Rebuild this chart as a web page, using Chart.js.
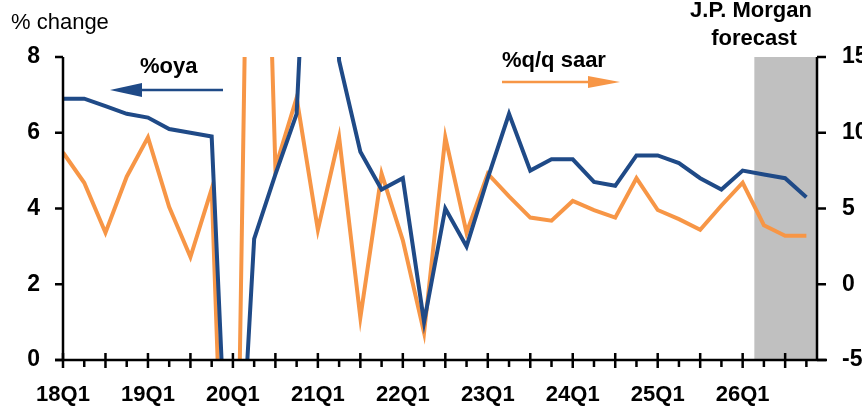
<!DOCTYPE html>
<html>
<head>
<meta charset="utf-8">
<script src="https://cdn.jsdelivr.net/npm/chart.js@4/dist/chart.umd.min.js"></script>
<style>
    html, body { margin: 0; padding: 0; background: #fff; }
    #wrap { width: 862px; height: 409px; }
</style>
</head>
<body>
<div id="wrap"><canvas id="grafico" width="862" height="409"></canvas></div>
<script>
// Trimestres (eje x)
const quarters = [
    '18Q1', '18Q2', '18Q3', '18Q4', '19Q1', '19Q2', '19Q3', '19Q4',
    '20Q1', '20Q2', '20Q3', '20Q4', '21Q1', '21Q2', '21Q3', '21Q4',
    '22Q1', '22Q2', '22Q3', '22Q4', '23Q1', '23Q2', '23Q3', '23Q4',
    '24Q1', '24Q2', '24Q3', '24Q4', '25Q1', '25Q2', '25Q3', '25Q4',
    '26Q1', '26Q2', '26Q3', '26Q4'
];
// %oya (eje izquierdo)
const oya = [6.9, 6.9, 6.7, 6.5, 6.4, 6.1, 6.0, 5.9, -6.8, 3.2, 4.9, 6.5,
    18.3, 7.9, 5.5, 4.5, 4.8, 1.0, 4.0, 3.0, 4.8, 6.5, 5.0, 5.3,
    5.3, 4.7, 4.6, 5.4, 5.4, 5.2, 4.8, 4.5, 5.0, 4.9, 4.8, 4.3];
// %q/q saar (eje derecho)
const qqSaar = [8.7, 6.7, 3.4, 7.1, 9.7, 5.1, 1.8, 6.3, -34, 55, 7.7, 12.3,
    3.6, 9.7, -2.2, 7.3, 2.9, -3.2, 9.7, 3.4, 7.3, 5.8, 4.4, 4.2,
    5.5, 4.9, 4.4, 7.0, 4.9, 4.3, 3.6, 5.2, 6.7, 3.9, 3.2, 3.2];
const leftTicks = [0, 2, 4, 6, 8];
const rightTicks = [-5, 0, 5, 10, 15];
const labelIdx = [0, 4, 8, 12, 16, 20, 24, 28, 32];
const forecastStart = 32.55;

const BLUE = '#1f4a87';
const ORANGE = '#f79646';
const FONT = '"Liberation Sans", Arial, sans-serif';

// flecha con punta triangular
function arrow(ctx, x1, y1, x2, y2, color, headLen, headHalf) {
    const dir = Math.sign(x2 - x1);
    ctx.save();
    ctx.strokeStyle = color;
    ctx.fillStyle = color;
    ctx.lineWidth = 2.5;
    ctx.beginPath();
    ctx.moveTo(x1, y1);
    ctx.lineTo(x2 - dir * headLen, y2);
    ctx.stroke();
    ctx.beginPath();
    ctx.moveTo(x2, y2);
    ctx.lineTo(x2 - dir * headLen, y2 - headHalf);
    ctx.lineTo(x2 - dir * headLen, y2 + headHalf);
    ctx.closePath();
    ctx.fill();
    ctx.restore();
}

const decor = {
    id: 'decor',
    beforeDatasetsDraw(chart) {
        const { ctx, chartArea, scales } = chart;
        const x0 = scales.x.getPixelForValue(forecastStart);
        ctx.save();
        ctx.fillStyle = '#c0c0c0';
        ctx.fillRect(x0, chartArea.top, chartArea.right - x0, chartArea.bottom - chartArea.top);
        ctx.restore();
    },
    afterDraw(chart) {
        const { ctx, chartArea, scales } = chart;
        const { left, right, top, bottom } = chartArea;
        ctx.save();
        ctx.strokeStyle = '#000';
        ctx.lineWidth = 2.5;
        ctx.lineCap = 'butt';
        // ejes
        ctx.beginPath();
        ctx.moveTo(left, top); ctx.lineTo(left, bottom);
        ctx.moveTo(right, top); ctx.lineTo(right, bottom);
        ctx.moveTo(left - 8, bottom); ctx.lineTo(right + 10, bottom);
        ctx.stroke();
        // marcas ejes y
        ctx.beginPath();
        leftTicks.forEach(v => {
            const y = scales.y.getPixelForValue(v);
            ctx.moveTo(left - 8, y); ctx.lineTo(left, y);
        });
        rightTicks.forEach(v => {
            const y = scales.y2.getPixelForValue(v);
            ctx.moveTo(right, y); ctx.lineTo(right + 9, y);
        });
        // marcas eje x
        quarters.forEach((q, i) => {
            const x = scales.x.getPixelForValue(i);
            if (i % 2 === 0) {
                ctx.moveTo(x, bottom - 7); ctx.lineTo(x, bottom + 8);
            } else {
                ctx.moveTo(x, bottom); ctx.lineTo(x, bottom + 7);
            }
        });
        ctx.stroke();

        // textos
        ctx.fillStyle = '#000';
        ctx.textBaseline = 'alphabetic';
        ctx.textAlign = 'left';
        ctx.font = '22px ' + FONT;
        ctx.fillText('% change', 11, 29);
        ctx.font = 'bold 22px ' + FONT;
        ctx.fillText('%oya', 140, 73);
        ctx.fillText('%q/q saar', 502, 67);
        ctx.textAlign = 'center';
        ctx.fillText('J.P. Morgan', 751, 17);
        ctx.fillText('forecast', 754, 45);
        ctx.restore();

        arrow(ctx, 223, 90, 110, 90, BLUE, 32, 7);
        arrow(ctx, 502, 82, 620, 82, ORANGE, 32, 6);
    }
};

const ctx = document.getElementById('grafico').getContext('2d');
new Chart(ctx, {
    type: 'line',
    data: {
        datasets: [{
            label: '%oya',
            data: oya.map((v, i) => ({ x: i, y: v })),
            borderColor: BLUE,
            borderWidth: 4,
            pointRadius: 0,
            tension: 0,
            yAxisID: 'y'
        }, {
            label: '%q/q saar',
            data: qqSaar.map((v, i) => ({ x: i, y: v })),
            borderColor: ORANGE,
            borderWidth: 4,
            pointRadius: 0,
            tension: 0,
            yAxisID: 'y2'
        }]
    },
    options: {
        responsive: false,
        animation: false,
        devicePixelRatio: 1,
        layout: { padding: { top: 57, left: 0, right: 0, bottom: 0 } },
        plugins: {
            legend: { display: false },
            tooltip: { enabled: false }
        },
        scales: {
            x: {
                type: 'linear',
                min: 0,
                max: 35.5,
                afterBuildTicks: s => { s.ticks = labelIdx.map(v => ({ value: v })); },
                afterFit: s => { s.height = 49; },
                grid: { display: false },
                border: { display: false },
                ticks: {
                    autoSkip: false,
                    maxRotation: 0,
                    padding: 14,
                    color: '#000',
                    font: { family: FONT, size: 22, weight: 'bold' },
                    callback: v => quarters[v] || ''
                }
            },
            y: {
                position: 'left',
                min: 0,
                max: 8,
                afterBuildTicks: s => { s.ticks = leftTicks.map(v => ({ value: v })); },
                afterFit: s => { s.width = 63; },
                grid: { display: false },
                border: { display: false },
                ticks: {
                    padding: 15,
                    color: '#000',
                    font: { family: FONT, size: 23, weight: 'bold' }
                }
            },
            y2: {
                position: 'right',
                min: -5,
                max: 15,
                afterBuildTicks: s => { s.ticks = rightTicks.map(v => ({ value: v })); },
                afterFit: s => { s.width = 45; },
                grid: { display: false },
                border: { display: false },
                ticks: {
                    padding: 17,
                    color: '#000',
                    font: { family: FONT, size: 23, weight: 'bold' }
                }
            }
        }
    },
    plugins: [decor]
});
</script>
</body>
</html>
